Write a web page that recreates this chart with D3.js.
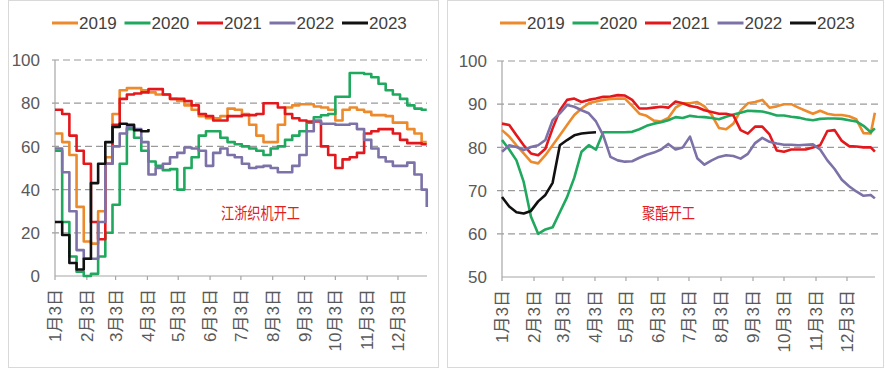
<!DOCTYPE html>
<html><head><meta charset="utf-8">
<script src="https://cdn.jsdelivr.net/npm/d3@7/dist/d3.min.js"></script>
<style>
body{margin:0;background:#fff;}
svg text{font-family:"Liberation Sans Narrow","Liberation Sans",Arial,"Noto Sans CJK SC",sans-serif;}
</style></head><body>
<svg id="c" width="885" height="370"></svg>
<script>
// ---------- data ----------
const years = ["2019","2020","2021","2022","2023"];
const colors = ["#EC8A2C","#1FA85E","#E3181C","#7D72A8","#111111"];
const monthTickDays = [0,31,59,90,120,151,181,212,243,273,304,334];
const monthTickLabels = ["1月3日","2月3日","3月3日","4月3日","5月3日","6月3日","7月3日","8月3日","9月3日","10月3日","11月3日","12月3日"];
const daysLeft = d3.range(0,358,7).concat([362]);
const daysRight = d3.range(0,358,7).concat([361]);
const yTicksLeft = [0,20,40,60,80,100];
const yTicksRight = [50,60,70,80,90,100];

// 江浙织机开工 (weekly)
const loom2019 = [66,62,56,32,16,15,30,55,75,86,87,87,86,85,84,84,82,81,79,77,74,73,73,74,77.5,77,75,70,65,62,62,70,78,79,79.5,79.5,78.5,78,77,72,77,78,77,76,74.5,74.5,74,71,71,68,66,62,62];
const loom2020 = [58,25,9,2,0,1,9,20,33,52,68,64,58,53,51,49,49.5,40,50,55,65,67,67,64,62,61,60,59,58,56,59,60,63,65,67,71,73.5,74.4,75,83,83,94,94,93.5,92,89,86,84,82,79,77.5,77,77];
const loom2021 = [77,75,65,58,52,25,17,52,70,82,84,84.5,85,86.5,86.5,84,82,82,81,79,75,74,72,72,74,74,74.5,74.5,75,80,80,78,75,73,72,71.5,71.5,60,56,50,54,55,57,66,67,68,68,66,63,61.5,61.5,61,61];
const loom2022 = [59,48,30,12,8,8,25,52,60,66,69,68,62,47,50,52,55,57,59.5,59,58,51,57,59,56,55,52,50,50.5,51,50,48,48,51,56,67,72,70.5,70.5,70,70,70.5,68,63,59,55,53,51,51,52.5,47,40,32];
const loom2023 = [25,19,6,3,8,43,52,62,69,70.5,70,67.5,67,68];

// 聚酯开工 (weekly)
const pet2019 = [84,82.5,80.5,78.6,76.7,76.3,78.2,80.5,82.8,85.2,87.5,89,90.2,90.6,91,91.2,91.3,91.3,89.6,87.8,87.3,86.2,86,86.8,89.2,90.2,90.2,90.5,89.5,87.5,84.5,84.2,85.5,88.5,90.2,90.5,91,89.2,89.5,90,90,89.2,88.5,87.8,88.5,87.8,87.5,87.5,87.2,86.5,83.3,83.2,88];
const pet2020 = [81.7,79.5,77,72,64,60,61,61.5,65,68.5,73,79,80.5,79.5,83.5,83.5,83.5,83.5,83.6,84.2,85,85.5,85.8,86.3,87,86.8,87.3,87.1,87,86.8,86.5,87.1,87.6,88,88.5,88.4,88.3,87.9,87.4,87.4,87.1,86.9,86.5,86.3,86.6,86.7,86.7,86.6,86.3,86,85,83.5,84.4];
const pet2021 = [85.5,85.2,82.8,80.5,78.6,78.2,79.7,84.4,88.6,91,91.3,90.5,91,91.3,91.7,91.8,92.1,92,91,89,89,89.2,89.4,89.2,90.6,90.2,89.6,89.3,88.6,88.2,87.8,87.8,87.4,84,83.2,84.8,84.8,83,79.3,79,79.5,79.5,79.5,80,80.5,83.8,84,81.5,80.3,80.2,80,80,79];
const pet2022 = [79,80.5,80.1,79.4,80.1,80.5,81.7,86.3,87.9,89.8,89.4,88.6,87.9,86,82.8,77.8,77,76.7,76.8,77.6,78.3,78.8,79.5,80.8,79.5,80,82.5,77.5,76,77,77.8,78.2,78,77.4,78.5,81,82.2,81.3,80.9,80.6,80.6,80.5,80.6,80.7,79.5,77,75,72.5,71,69.8,68.8,69,68.2];
const pet2023 = [68.5,66.3,65,64.7,65.3,67.5,69,71.8,80.5,81.7,82.8,83.2,83.4,83.5];

// ---------- layout ----------
const panels = [
  {frame:[8.5,0.5,430,367], xr:[55,398], xEnd:427, yr:[276,60], dom:[0,100], yTicks:yTicksLeft,
   gridX:[52,427], days:daysLeft, series:[loom2019,loom2020,loom2021,loom2022,loom2023],
   curve:d3.curveStepAfter, legendX:52, title:"江浙织机开工", titleX:221, titleW:79},
  {frame:[447.5,0.5,436,367], xr:[502,847], xEnd:875, yr:[277,61], dom:[50,100], yTicks:yTicksRight,
   gridX:[497,878], days:daysRight, series:[pet2019,pet2020,pet2021,pet2022,pet2023],
   curve:d3.curveLinear, legendX:500, title:"聚酯开工", titleX:642, titleW:53}
];

const svg = d3.select("#c");
const axisColor = "#a6a6a6", textColor = "#595959";

panels.forEach(p => {
  const g = svg.append("g");
  g.append("rect").attr("x",p.frame[0]).attr("y",p.frame[1]).attr("width",p.frame[2]).attr("height",p.frame[3])
    .attr("fill","none").attr("stroke","#d9d9d9").attr("stroke-width",1);

  const x = d3.scaleLinear().domain([0,334]).range(p.xr);
  const y = d3.scaleLinear().domain(p.dom).range(p.yr);

  // gridlines
  g.selectAll(".grid").data(p.yTicks.slice(1)).join("line")
    .attr("x1",p.gridX[0]).attr("x2",p.gridX[1])
    .attr("y1",d=>y(d)).attr("y2",d=>y(d))
    .attr("stroke","#9a9a9a").attr("stroke-width",1.2).attr("stroke-dasharray","7,4");

  // y axis
  g.append("line").attr("x1",p.xr[0]).attr("x2",p.xr[0]).attr("y1",p.yr[0]).attr("y2",p.yr[1])
    .attr("stroke",axisColor).attr("stroke-width",1.2);
  g.selectAll(".yl").data(p.yTicks).join("text")
    .attr("x",p.xr[0]-15).attr("y",d=>y(d)).attr("dy","0.36em")
    .attr("text-anchor","end").attr("font-size",17).attr("fill",textColor).text(d=>d);

  // x axis
  g.append("line").attr("x1",p.xr[0]).attr("x2",p.xEnd).attr("y1",p.yr[0]).attr("y2",p.yr[0])
    .attr("stroke",axisColor).attr("stroke-width",1.2);
  g.selectAll(".xt").data(monthTickDays).join("line")
    .attr("x1",d=>x(d)).attr("x2",d=>x(d)).attr("y1",p.yr[0]).attr("y2",p.yr[0]+4)
    .attr("stroke",axisColor).attr("stroke-width",1.2);
  g.selectAll(".xl").data(monthTickDays).join("text")
    .attr("transform",d=>`translate(${x(d)},${p.yr[0]+13}) rotate(-90)`)
    .attr("dy","0.36em").attr("text-anchor","end").attr("font-size",17).attr("fill",textColor)
    .text((d,i)=>monthTickLabels[i]);

  // lines
  const line = d3.line().curve(p.curve).x(d=>x(d[0])).y(d=>y(d[1]));
  p.series.forEach((vals,i) => {
    const pts = vals.map((v,j)=>[p.days[j], v]);
    g.append("path").attr("d",line(pts)).attr("fill","none")
      .attr("stroke",colors[i]).attr("stroke-width",2.6).attr("stroke-linejoin","round");
  });

  // legend
  years.forEach((yr,i) => {
    const lx = p.legendX + i*72.5;
    g.append("line").attr("x1",lx).attr("x2",lx+26).attr("y1",23).attr("y2",23)
      .attr("stroke",colors[i]).attr("stroke-width",3);
    g.append("text").attr("x",lx+27).attr("y",29).attr("font-size",17).attr("fill","#404040").text(yr);
  });

  // annotation
  g.append("text").attr("x",p.titleX).attr("y",219).attr("font-size",16)
    .attr("textLength",p.titleW).attr("lengthAdjust","spacingAndGlyphs")
    .attr("fill","#E0201F").attr("style","font-family:'Noto Sans CJK SC',sans-serif").text(p.title);
});
</script>
</body></html>
